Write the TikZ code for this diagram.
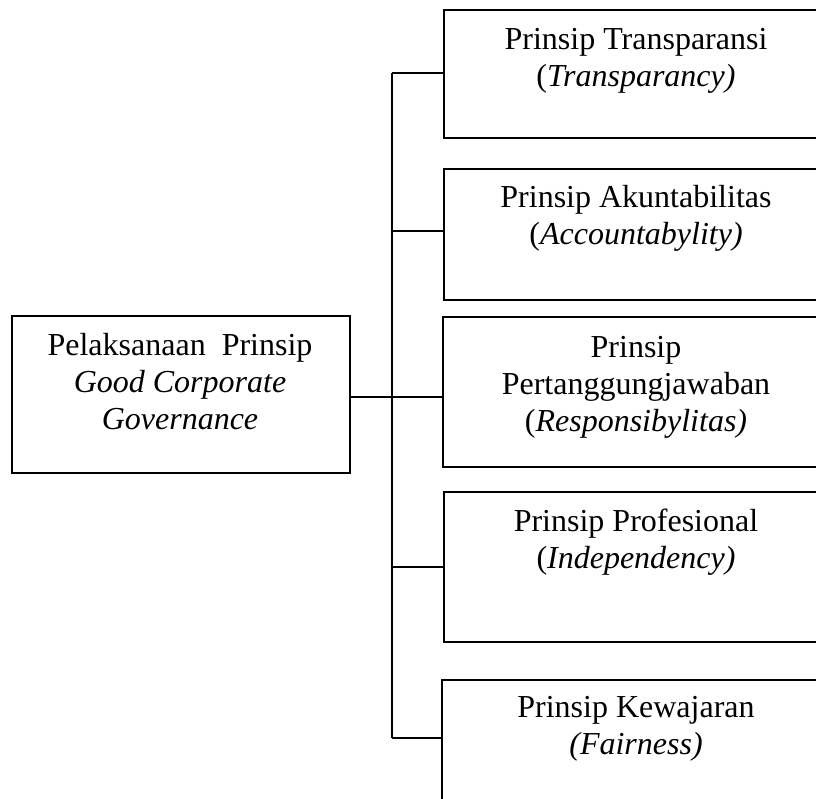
\documentclass[tikz,border=0pt]{standalone}
\usepackage{fontspec}
\setmainfont{Liberation Serif}
\begin{document}
\begin{tikzpicture}[x=1pt,y=-1pt,
  box/.style={draw,line width=1.5pt,rectangle,inner sep=0pt,outer sep=0pt,anchor=north west},
  txt/.style={anchor=north,inner sep=0pt,align=center,font=\fontsize{32}{36.8}\selectfont},
  conn/.style={line width=1.5pt}]
\useasboundingbox (0,0) rectangle (816,798);
\clip (0,0) rectangle (816,798);
% boxes
\node[box,minimum width=338pt,minimum height=157pt] (m) at (12,316) {};
\node[box,minimum width=386pt,minimum height=128pt] (b1) at (444,10) {};
\node[box,minimum width=386pt,minimum height=131pt] (b2) at (444,169) {};
\node[box,minimum width=387pt,minimum height=150pt] (b3) at (443,317) {};
\node[box,minimum width=386pt,minimum height=150pt] (b4) at (444,492) {};
\node[box,minimum width=388pt,minimum height=150pt] (b5) at (442,680) {};
% texts
\node[txt] (tm) at (180,330) {\strut Pelaksanaan\ \ Prinsip\\\textit{Good Corporate}\\\textit{Governance}};
\node[txt] (t1) at (636,24) {\strut Prinsip Transparansi\\(\textit{Transparancy)}};
\node[txt] (t2) at (636,182) {\strut Prinsip Akuntabilitas\\(\textit{Accountabylity)}};
\node[txt] (t3) at (636,332) {\strut Prinsip\\Pertanggungjawaban\\(\textit{Responsibylitas)}};
\node[txt] (t4) at (636,506) {\strut Prinsip Profesional\\(\textit{Independency)}};
\node[txt] (t5) at (636,692) {\strut Prinsip Kewajaran\\\textit{(Fairness)}};
% trunk
\coordinate (k1) at (392,73);
\coordinate (k2) at (392,231);
\coordinate (k3) at (392,397);
\coordinate (k4) at (392,567);
\coordinate (k5) at (392,738);
\draw[conn] (k1) -- (k5);
\draw[conn] (k1) -- (k1 -| b1.west);
\draw[conn] (k2) -- (k2 -| b2.west);
\draw[conn] (k3 -| m.east) -- (k3 -| b3.west);
\draw[conn] (k4) -- (k4 -| b4.west);
\draw[conn] (k5) -- (k5 -| b5.west);
\end{tikzpicture}
\end{document}
